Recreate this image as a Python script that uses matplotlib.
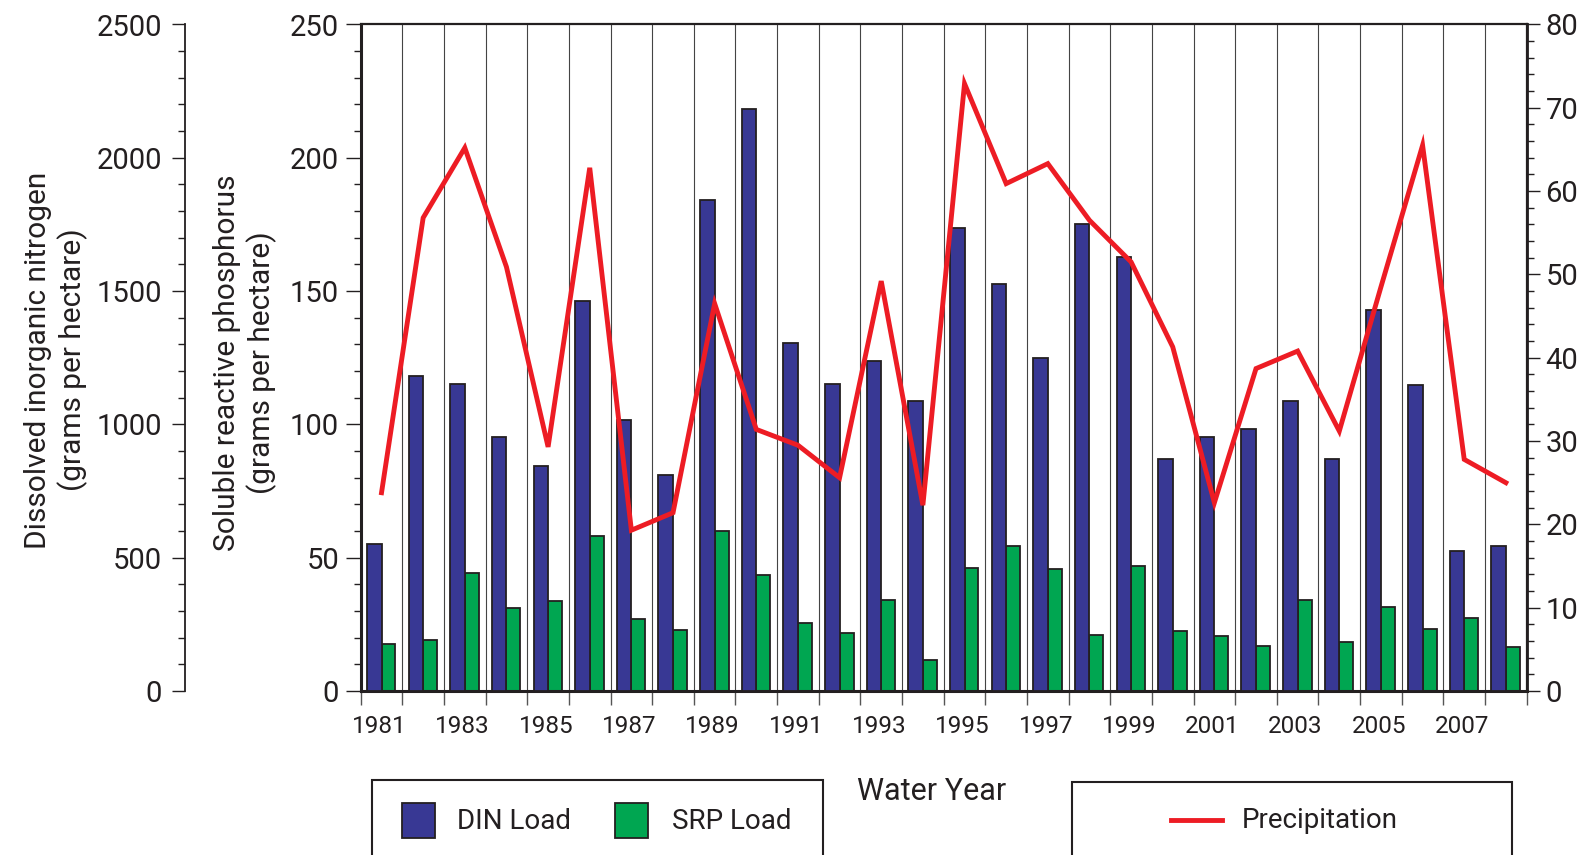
import numpy as np
import matplotlib.pyplot as plt
from matplotlib.patches import Rectangle
from matplotlib.lines import Line2D
from matplotlib.ticker import MultipleLocator, FixedLocator, NullFormatter

plt.rcParams['font.family'] = ['Roboto', 'DejaVu Sans']

# Water years and annual loads
years = list(range(1981, 2009))
din_load = [550, 1180, 1150, 952, 844, 1463, 1016, 809, 1842, 2183,
            1305, 1150, 1238, 1088, 1738, 1527, 1248, 1750, 1628, 869,
            952, 983, 1088, 871, 1429, 1148, 525, 544]
srp_load = [17.5, 19.1, 44.3, 31.0, 33.9, 58.1, 26.9, 22.9, 60.1, 43.4,
            25.5, 21.8, 34.1, 11.5, 46.3, 54.3, 45.6, 20.9, 46.9, 22.4,
            20.5, 17.0, 34.2, 18.3, 31.6, 23.3, 27.4, 16.5]
precip = [23.8, 56.8, 65.2, 50.9, 29.3, 62.8, 19.3, 21.4, 46.5, 31.4,
          29.5, 25.6, 49.2, 22.3, 72.9, 60.9, 63.3, 56.5, 51.5, 41.3,
          22.6, 38.7, 40.8, 31.2, 48.5, 65.5, 27.8, 25.0]

din_color = '#383894'
srp_color = '#00a651'
line_color = '#ed1c24'
ink = '#231f20'

W, H = 1587, 855
fig = plt.figure(figsize=(W / 100, H / 100), dpi=100)

left, right, top, bottom = 360.7, 1526.7, 24.5, 691
ax = fig.add_axes([left / W, 1 - bottom / H, (right - left) / W, (bottom - top) / H])
ax_din = ax.twinx()
ax_p = ax.twinx()

n = len(years)
x0 = np.arange(n)

# year separators
for b in range(1, n):
    ax.axvline(b, color='#444444', lw=0.8, zorder=0)

# SRP bars on the main axis (0-250)
ax.bar(x0 + 0.5, srp_load, width=0.335, align='edge', color=srp_color,
       edgecolor=ink, linewidth=1.3, zorder=2)
ax.set_ylim(0, 250)
ax.set_xlim(0, n)

# DIN bars (0-2500)
ax_din.bar(x0 + 0.15, din_load, width=0.35, align='edge', color=din_color,
           edgecolor=ink, linewidth=1.3, zorder=2)
ax_din.set_ylim(0, 2500)

# precipitation line
ax_p.plot(x0 + 0.5, precip, color=line_color, lw=3.5, solid_joinstyle='miter', zorder=3)
ax_p.set_ylim(0, 80)

# spines
for s in ['top', 'bottom', 'left', 'right']:
    ax.spines[s].set_color(ink)
ax.spines['top'].set_linewidth(1.6)
ax.spines['bottom'].set_linewidth(2.2)
ax.spines['left'].set_linewidth(2.2)
ax.spines['right'].set_linewidth(1.6)

for s in ['top', 'bottom', 'right']:
    ax_din.spines[s].set_visible(False)
ax_din.spines['left'].set_position(('axes', -175.7 / (right - left)))
ax_din.spines['left'].set_color(ink)
ax_din.spines['left'].set_linewidth(1.3)
ax_din.yaxis.set_ticks_position('left')
ax_din.yaxis.set_label_position('left')

for s in ['top', 'bottom', 'left']:
    ax_p.spines[s].set_visible(False)
ax_p.spines['right'].set_color(ink)
ax_p.spines['right'].set_linewidth(2.0)

# y ticks
ax.yaxis.set_major_locator(MultipleLocator(50))
ax.yaxis.set_minor_locator(MultipleLocator(10))
ax.tick_params(axis='y', which='major', length=10.5, width=1, color=ink,
               labelsize=21, labelcolor=ink, pad=5)
ax.tick_params(axis='y', which='minor', length=5, width=1, color=ink)

ax_din.yaxis.set_major_locator(MultipleLocator(500))
ax_din.yaxis.set_minor_locator(MultipleLocator(100))
ax_din.tick_params(axis='y', which='major', length=9.5, width=1, color=ink,
                   labelsize=21, labelcolor=ink, pad=7)
ax_din.tick_params(axis='y', which='minor', length=5, width=1, color=ink)

ax_p.yaxis.set_major_locator(MultipleLocator(10))
ax_p.yaxis.set_minor_locator(MultipleLocator(2))
ax_p.tick_params(axis='y', which='major', length=9.5, width=1, color=ink,
                 labelsize=21, labelcolor=ink, pad=4)
ax_p.tick_params(axis='y', which='minor', length=5, width=1, color=ink)

# x ticks: boundaries get marks, odd years get labels at slot centers
ax.xaxis.set_major_locator(FixedLocator(np.arange(0, n + 1)))
ax.xaxis.set_major_formatter(NullFormatter())
odd = [i for i, y in enumerate(years) if y % 2 == 1]
ax.xaxis.set_minor_locator(FixedLocator([i + 0.45 for i in odd]))
ax.set_xticklabels([str(years[i]) for i in odd], minor=True)
ax.tick_params(axis='x', which='major', length=10, width=1, color='#555555')
ax.tick_params(axis='x', which='minor', length=0, labelsize=17.5,
               labelcolor=ink, pad=17)

# axis titles
fig.text(56 / W, 1 - 360 / H, 'Dissolved inorganic nitrogen\n(grams per hectare)',
         rotation=90, ha='center', va='center', fontsize=21.5, color=ink,
         linespacing=1.2)
fig.text(245 / W, 1 - 363 / H, 'Soluble reactive phosphorus\n(grams per hectare)',
         rotation=90, ha='center', va='center', fontsize=21.5, color=ink,
         linespacing=1.2)
fig.text(932 / W, 1 - 791 / H, 'Water Year', ha='center', va='center',
         fontsize=22, color=ink)

# legend boxes (run off the bottom edge)
def px_rect(x1, y1, x2, y2, **kw):
    return Rectangle((x1 / W, 1 - y2 / H), (x2 - x1) / W, (y2 - y1) / H,
                     transform=fig.transFigure, **kw)

fig.patches.append(px_rect(372, 780, 823, 880, fill=False, edgecolor=ink, lw=1.5))
fig.patches.append(px_rect(1072, 782, 1512, 880, fill=False, edgecolor=ink, lw=1.5))
fig.patches.append(px_rect(402, 803, 435, 838, facecolor=din_color, edgecolor=ink, lw=1.3))
fig.patches.append(px_rect(615, 803, 648, 838, facecolor=srp_color, edgecolor=ink, lw=1.3))
fig.text(457 / W, 1 - 821 / H, 'DIN Load', ha='left', va='center', fontsize=20, color=ink)
fig.text(672 / W, 1 - 821 / H, 'SRP Load', ha='left', va='center', fontsize=20, color=ink)
fig.lines.append(Line2D([1171 / W, 1222 / W], [1 - 820 / H, 1 - 820 / H],
                        transform=fig.transFigure, color=line_color, lw=3.5))
fig.text(1242 / W, 1 - 820 / H, 'Precipitation', ha='left', va='center',
         fontsize=20, color=ink)

fig.savefig('out.png', dpi=100)
